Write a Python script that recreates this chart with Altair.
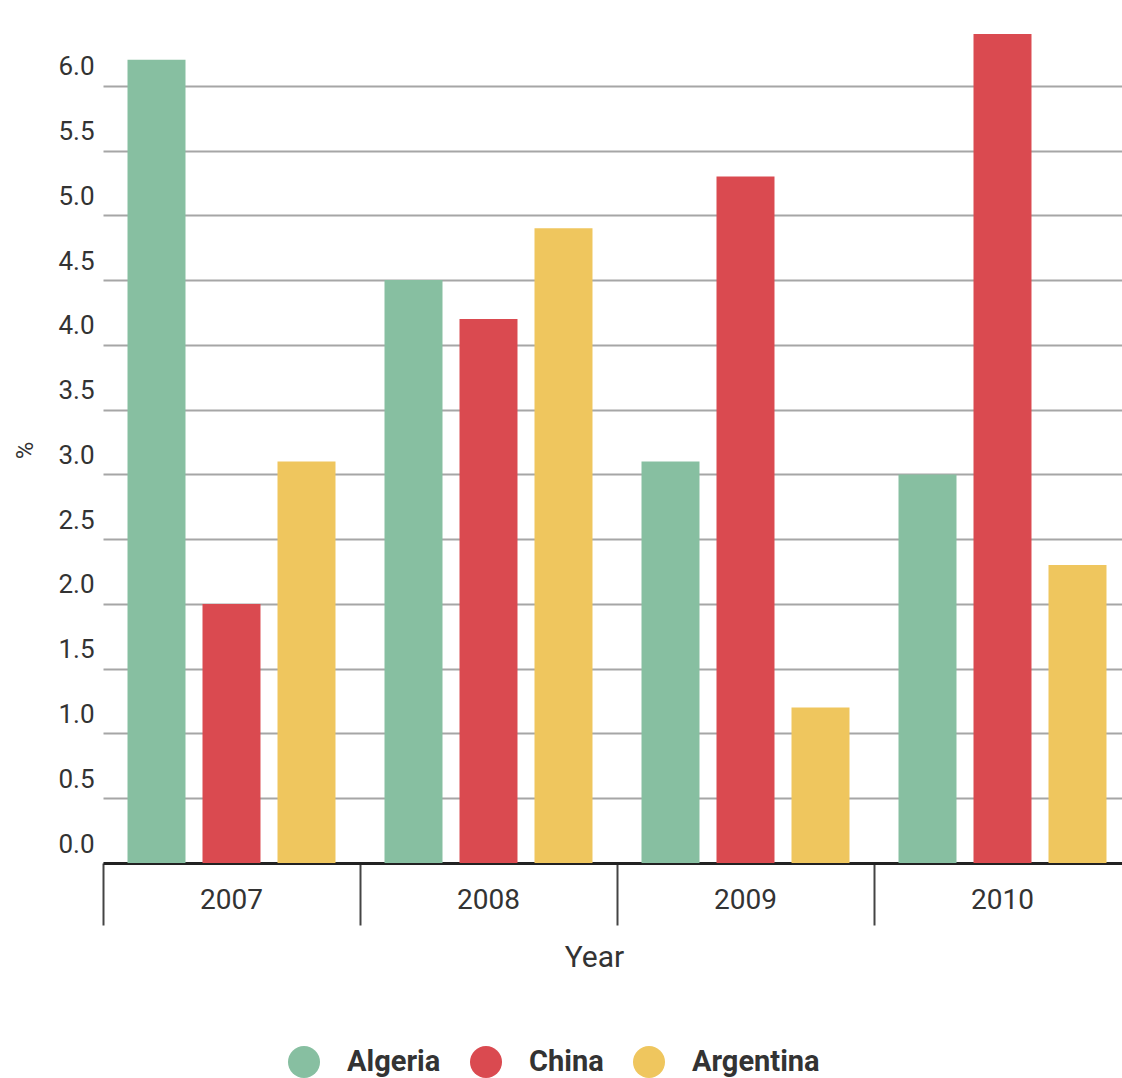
import altair as alt
import pandas as pd

years = ["2007", "2008", "2009", "2010"]
series = ["Algeria", "China", "Argentina"]
algeria = [6.2, 4.5, 3.1, 3.0]
china = [2.0, 4.2, 5.3, 6.4]
argentina = [3.1, 4.9, 1.2, 2.3]
colors = ["#87bfa1", "#da4a50", "#efc65e"]
y_ticks = [0.0, 0.5, 1.0, 1.5, 2.0, 2.5, 3.0, 3.5, 4.0, 4.5, 5.0, 5.5, 6.0]

rows = []
for name, vals in zip(series, [algeria, china, argentina]):
    for yr, v in zip(years, vals):
        rows.append({"Year": yr, "Country": name, "value": v})
df = pd.DataFrame(rows)

FONT = "Roboto"

chart = alt.Chart(df).mark_bar().encode(
    x=alt.X(
        "Year:N",
        sort=years,
        scale=alt.Scale(range=[45, 1073], paddingInner=0, paddingOuter=0),
        axis=alt.Axis(
            title="Year",
            labelAngle=0,
            bandPosition=0,
            tickSize=62,
            tickWidth=2,
            tickColor="#444444",
            labelPadding=-39,
            labelFontSize=28,
            labelColor="#333333",
            labelFont=FONT,
            domainColor="#222222",
            domainWidth=3,
            titleFontSize=30,
            titleFontWeight="normal",
            titleFont=FONT,
            titleColor="#333333",
            titleX=536,
            titleY=94,
            titleBaseline="middle",
        ),
    ),
    xOffset=alt.XOffset(
        "Country:N",
        sort=series,
        scale=alt.Scale(paddingInner=0.2267, paddingOuter=0.3267),
    ),
    y=alt.Y(
        "value:Q",
        scale=alt.Scale(domain=[0, 6.5], nice=False),
        axis=alt.Axis(
            title="%",
            values=y_ticks,
            format=".1f",
            ticks=False,
            tickSize=0,
            domain=False,
            labelAlign="left",
            labelPadding=0,
            labelBaseline="bottom",
            labelOffset=-6,
            labelFontSize=26,
            labelColor="#333333",
            labelFont=FONT,
            gridColor="#a6a6a6",
            gridWidth=2,
            titleFontSize=24,
            titleFontWeight="normal",
            titleFont=FONT,
            titleColor="#333333",
            titleX=-33,
            titleY=429,
            titleAngle=-90,
            titleBaseline="middle",
        ),
    ),
    color=alt.Color(
        "Country:N",
        sort=series,
        scale=alt.Scale(domain=series, range=colors),
        legend=alt.Legend(
            title=None,
            orient="none",
            direction="horizontal",
            legendX=230,
            legendY=1025,
            symbolType="circle",
            symbolSize=1024,
            symbolStrokeWidth=0,
            symbolOpacity=1,
            labelFontSize=29,
            labelFontWeight="bold",
            labelFont=FONT,
            labelColor="#333333",
            labelOffset=27,
            columnPadding=29,
        ),
    ),
).properties(
    width=1064,
    height=842,
    autosize=alt.AutoSizeParams(type="none"),
    padding={"left": 58, "top": 21, "right": 0, "bottom": 215},
).configure(background="white").configure_view(stroke=None)

chart.save("out.html", embed_options={"renderer": "svg", "actions": False})
